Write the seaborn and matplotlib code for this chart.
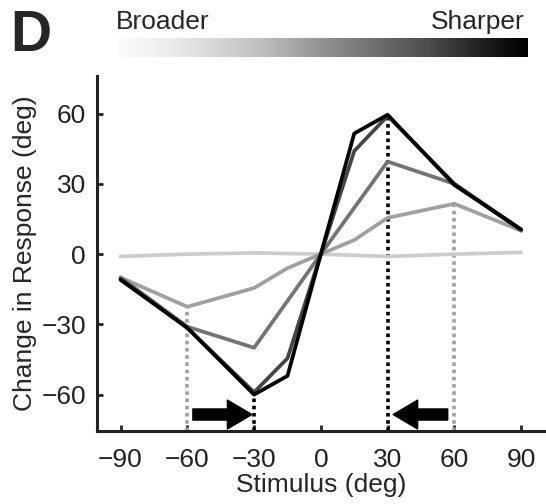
import numpy as np
import pandas as pd
import matplotlib
matplotlib.use("Agg")
import matplotlib.pyplot as plt
import seaborn as sns

# stimulus positions (deg) for each curve, broadest -> sharpest
x_broadest = [-90, -60, -30, 0, 30, 60, 90]
y_broadest = [-1, 0, 0.5, 0, -1, 0, 0.7]

x_broad = [-90, -60, -30, -15, 0, 15, 30, 60, 90]
y_broad = [-10, -22.5, -14.5, -6, 0, 6, 15.5, 21.5, 10]

x_mid = [-90, -60, -30, 0, 30, 60, 90]
y_mid = [-10, -31, -40, 0, 39.5, 30, 10]

x_sharp = [-90, -60, -30, -15, 0, 15, 30, 60, 90]
y_sharp = [-10.5, -31.5, -59, -44.5, 0, 44, 59, 30, 10.5]

x_sharpest = [-90, -60, -30, -15, 0, 15, 30, 60, 90]
y_sharpest = [-11, -31.5, -60, -52, 0, 51.5, 59.5, 29.5, 10.5]

levels = ["1", "2", "3", "4", "5"]
colors = ["#cccccc", "#a0a0a0", "#747474", "#454545", "#000000"]

# peak markers (dotted verticals) and arrows
peak_black_x = [-30, 30]
peak_black_y = [-60, 59.5]
peak_gray_x = [-60, 60]
peak_gray_y = [-22.5, 21.5]

xs = [x_broadest, x_broad, x_mid, x_sharp, x_sharpest]
ys = [y_broadest, y_broad, y_mid, y_sharp, y_sharpest]
df = pd.concat(
    [pd.DataFrame({"stim": x, "resp": y, "level": lv}) for x, y, lv in zip(xs, ys, levels)],
    ignore_index=True,
)

sns.set_style("ticks")
plt.rcParams["font.family"] = ["Liberation Sans", "DejaVu Sans"]

fig = plt.figure(figsize=(5.46, 5.04), dpi=100)
ax = fig.add_axes([0.178, 0.145, 0.8205, 0.704])

ybot = -75.5
# dotted verticals, drawn underneath the curves
for px, py in zip(peak_gray_x, peak_gray_y):
    ax.plot([px, px], [ybot, py], color="#a0a0a0", lw=2.6, ls=(0, (1, 1)), zorder=1)
for px, py in zip(peak_black_x, peak_black_y):
    ax.plot([px, px], [ybot, py], color="black", lw=2.6, ls=(0, (1, 1)), zorder=1)

sns.lineplot(data=df, x="stim", y="resp", hue="level", hue_order=levels,
             palette=colors, lw=2.7, legend=False, sort=False, ax=ax, zorder=2)

# arrows pointing at the sharpened peaks
arrow_y = -68.5
for start, end in [(-57.5, -31), (57, 32.5)]:
    ax.annotate("", xy=(end, arrow_y), xytext=(start, arrow_y),
                arrowprops=dict(arrowstyle="simple,head_length=1.1,head_width=1.3,tail_width=0.5",
                                color="black", mutation_scale=16, shrinkA=0, shrinkB=0))

ax.set_xlim(-100.5, 100.8)
ax.set_ylim(ybot, 76)
ax.set_xticks([-90, -60, -30, 0, 30, 60, 90])
ax.set_yticks([-60, -30, 0, 30, 60])
ax.tick_params(direction="in", length=4, width=2, labelsize=19, colors="#222222")
ax.tick_params(axis="x", pad=12)
ax.tick_params(axis="y", pad=8)
for s in ["left", "bottom"]:
    ax.spines[s].set_linewidth(2.2)
    ax.spines[s].set_color("#222222")
sns.despine(ax=ax)
ax.set_xlabel("Stimulus (deg)", fontsize=19, labelpad=1)
ax.set_ylabel("Change in Response (deg)", fontsize=19, labelpad=3)

# gradient bar on top
cax = fig.add_axes([118 / 546, 1 - 57.5 / 504, 410 / 546, 20 / 504])
grad = np.linspace(0.03, 1, 256).reshape(1, -1)
cax.imshow(grad, aspect="auto", cmap="Greys", vmin=0, vmax=1)
cax.axis("off")
fig.text(116 / 546, 1 - 29 / 504, "Broader", fontsize=19, ha="left", va="baseline")
fig.text(525 / 546, 1 - 29 / 504, "Sharper", fontsize=19, ha="right", va="baseline")
fig.text(10 / 546, 1 - 51 / 504, "D", fontsize=41, fontweight="bold", ha="left", va="baseline")

fig.savefig("out.png", dpi=100)
